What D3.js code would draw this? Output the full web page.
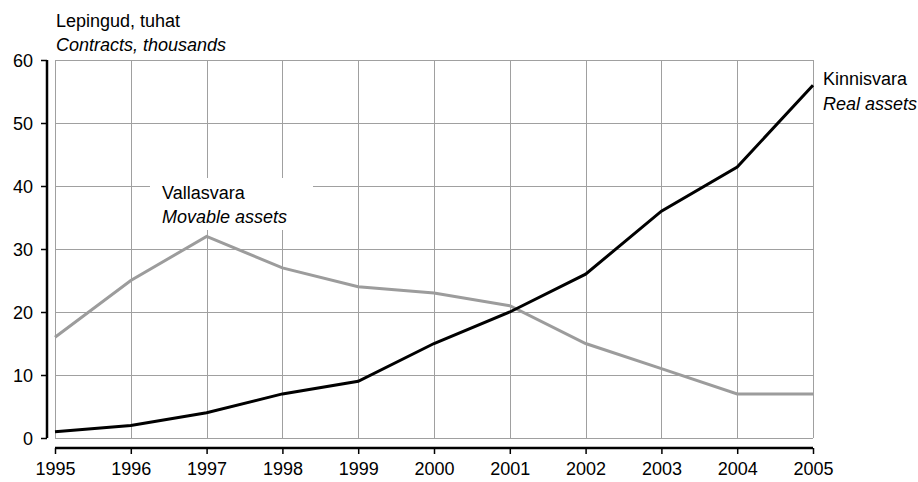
<!DOCTYPE html>
<html><head><meta charset="utf-8">
<script src="https://cdn.jsdelivr.net/npm/d3@7"></script>
<style>body{margin:0;background:#fff}svg{display:block}text{font-family:"Liberation Sans",Arial,sans-serif;font-size:18px;fill:#000}</style>
</head><body><svg id="c" width="918" height="482"></svg>
<script>
const years = [1995,1996,1997,1998,1999,2000,2001,2002,2003,2004,2005];
const realAssets = [1,2,4,7,9,15,20,26,36,43,56];
const movableAssets = [16,25,32,27,24,23,21,15,11,7,7];
const yTicks = [0,10,20,30,40,50,60];

const svg = d3.select("#c");
const x = d3.scaleLinear().domain([1995,2005]).range([55,813]);
const y = d3.scaleLinear().domain([0,60]).range([438,60]);

// grid
const grid = svg.append("g").attr("stroke","#a0a0a0").attr("stroke-width",1);
yTicks.forEach(t=>grid.append("line").attr("x1",55).attr("x2",813).attr("y1",Math.round(y(t))+0.5).attr("y2",Math.round(y(t))+0.5));
years.forEach(t=>grid.append("line").attr("y1",60).attr("y2",438).attr("x1",Math.round(x(t))+0.5).attr("x2",Math.round(x(t))+0.5));

// label box for Vallasvara
svg.append("rect").attr("x",150).attr("y",178).attr("width",163).attr("height",52).attr("fill","#fff");

// lines
const line = d3.line().x((d,i)=>x(years[i])).y(d=>y(d));
svg.append("path").datum(movableAssets).attr("d",line).attr("fill","none").attr("stroke","#9c9c9c").attr("stroke-width",3);
svg.append("path").datum(realAssets).attr("d",line).attr("fill","none").attr("stroke","#000").attr("stroke-width",3);

// y axis
const ya = svg.append("g").attr("transform","translate(47,0)")
  .call(d3.axisLeft(y).tickValues(yTicks).tickSize(6).tickPadding(8));
ya.select(".domain").attr("d","M0,60V438").attr("stroke-width",2.5);
ya.selectAll(".tick line").attr("stroke-width",1.5);
ya.selectAll("text").attr("dy","0.35em");

// x axis
const xa = svg.append("g").attr("transform","translate(0,448)")
  .call(d3.axisBottom(x).tickValues(years).tickFormat(d3.format("d")).tickSize(6).tickPadding(8));
xa.select(".domain").attr("d","M55,0H813").attr("stroke-width",2.5);
xa.selectAll(".tick line").attr("stroke-width",1.5);

// texts
svg.append("text").attr("x",56).attr("y",27).text("Lepingud, tuhat");
svg.append("text").attr("x",56).attr("y",51).attr("font-style","italic").text("Contracts, thousands");
svg.append("text").attr("x",823).attr("y",85).text("Kinnisvara");
svg.append("text").attr("x",823).attr("y",110).attr("font-style","italic").text("Real assets");
svg.append("text").attr("x",162).attr("y",199).text("Vallasvara");
svg.append("text").attr("x",162).attr("y",223).attr("font-style","italic").text("Movable assets");
</script></body></html>
